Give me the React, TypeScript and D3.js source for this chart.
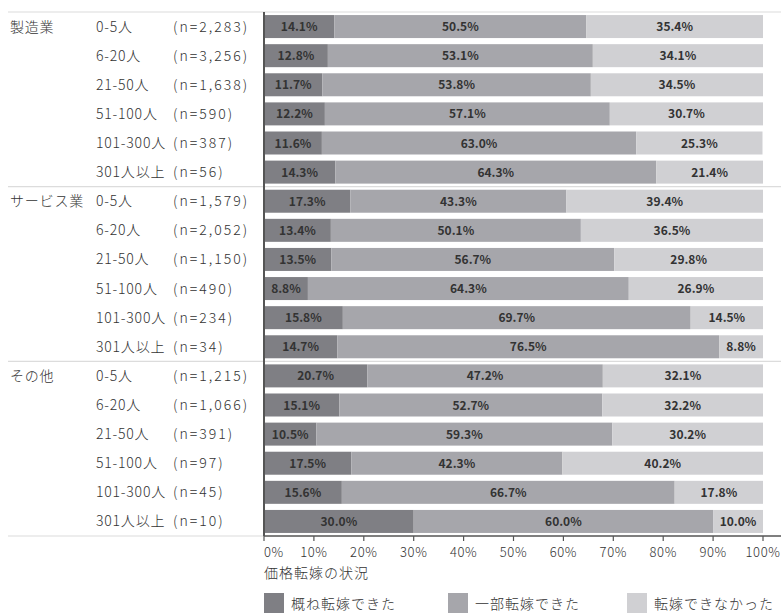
import React from "react";
import * as d3 from "d3";

const groups = ["製造業", "サービス業", "その他"];
const sizes = ["0-5人", "6-20人", "21-50人", "51-100人", "101-300人", "301人以上"];
const counts = [
  ["2,283", "3,256", "1,638", "590", "387", "56"],
  ["1,579", "2,052", "1,150", "490", "234", "34"],
  ["1,215", "1,066", "391", "97", "45", "10"],
];
const mostly = [
  [14.1, 12.8, 11.7, 12.2, 11.6, 14.3],
  [17.3, 13.4, 13.5, 8.8, 15.8, 14.7],
  [20.7, 15.1, 10.5, 17.5, 15.6, 30.0],
];
const partly = [
  [50.5, 53.1, 53.8, 57.1, 63.0, 64.3],
  [43.3, 50.1, 56.7, 64.3, 69.7, 76.5],
  [47.2, 52.7, 59.3, 42.3, 66.7, 60.0],
];
const notAtAll = [
  [35.4, 34.1, 34.5, 30.7, 25.3, 21.4],
  [39.4, 36.5, 29.8, 26.9, 14.5, 8.8],
  [32.1, 32.2, 30.2, 40.2, 17.8, 10.0],
];
const seriesNames = ["概ね転嫁できた", "一部転嫁できた", "転嫁できなかった"];
const axisTitle = "価格転嫁の状況";
const ticks = [0, 10, 20, 30, 40, 50, 60, 70, 80, 90, 100];

const colors = ["#7f7f84", "#a6a6ab", "#d0d0d3"];
const FONT = "'Noto Sans CJK JP', 'Noto Sans', sans-serif";

type Row = { g: number; s: number; key: string; vals: number[] };

const rows: Row[] = [];
groups.forEach((_, g) =>
  sizes.forEach((_, s) =>
    rows.push({
      g,
      s,
      key: `${g}-${s}`,
      vals: [mostly[g][s], partly[g][s], notAtAll[g][s]],
    })
  )
);

export default function App() {
  const W = 781;
  const H = 613;
  const top = 12;
  const bottom = 536;
  const x = d3.scaleLinear().domain([0, 100]).range([264, 763]);
  const y = d3
    .scaleBand<string>()
    .domain(rows.map((r) => r.key))
    .range([top, bottom])
    .paddingInner(0.21)
    .paddingOuter(0.105);
  const bh = y.bandwidth();
  const step = y.step();

  return (
    <svg
      width={W}
      height={H}
      style={{ position: "absolute", left: 0, top: 0, fontFamily: FONT }}
    >
      {/* group separators */}
      {[0, 6, 12].map((i) => {
        const yy = top + i * step;
        return (
          <line key={i} x1={8} x2={W} y1={yy} y2={yy} stroke="#dcdcdc" strokeWidth={1.2} />
        );
      })}
      <line x1={8} x2={264} y1={bottom} y2={bottom} stroke="#dcdcdc" strokeWidth={1.2} />

      {/* bars */}
      {rows.map((r) => {
        let acc = 0;
        const y0 = y(r.key)!;
        return (
          <g key={r.key}>
            {r.vals.map((v, k) => {
              const x0 = x(acc);
              acc += v;
              const x1 = Math.min(x(acc), x(100));
              return (
                <g key={k}>
                  <rect x={x0} y={y0} width={x1 - x0} height={bh} fill={colors[k]} />
                  <text
                    x={(x0 + x1) / 2}
                    y={y0 + bh / 2 + 4.5}
                    textAnchor="middle"
                    fontSize={12}
                    fontWeight={600}
                    fill="#333"
                  >
                    {v.toFixed(1)}%
                  </text>
                </g>
              );
            })}
          </g>
        );
      })}

      {/* row labels */}
      {rows.map((r) => {
        const cy = y(r.key)! + bh / 2 + 5;
        return (
          <g key={"l" + r.key} fontSize={14} fill="#333" fontWeight={300}>
            {r.s === 0 && (
              <text x={10} y={cy} letterSpacing={0.8}>
                {groups[r.g]}
              </text>
            )}
            <text x={96} y={cy} letterSpacing={0.8}>
              {sizes[r.s]}
            </text>
            <text x={173} y={cy} letterSpacing={2}>
              (n={counts[r.g][r.s]})
            </text>
          </g>
        );
      })}

      {/* axes */}
      <line x1={264} x2={264} y1={top} y2={bottom} stroke="#555" strokeWidth={2} />
      <line x1={264} x2={W} y1={bottom} y2={bottom} stroke="#555" strokeWidth={1.5} />
      {ticks.map((t) => (
        <g key={t}>
          <line x1={x(t)} x2={x(t)} y1={bottom} y2={bottom + 5} stroke="#555" strokeWidth={1.2} />
          <text
            x={x(t)}
            y={557}
            textAnchor={t === 0 ? "start" : "middle"}
            fontSize={13}
            fontWeight={300}
            letterSpacing={0.6}
            fill="#333"
          >
            {t}%
          </text>
        </g>
      ))}
      <text x={264} y={578} fontSize={14} fontWeight={300} fill="#333" letterSpacing={1}>
        {axisTitle}
      </text>

      {/* legend */}
      {seriesNames.map((n, k) => {
        const lx = [264, 448, 627][k];
        return (
          <g key={n}>
            <rect x={lx} y={593} width={20} height={20} fill={colors[k]} />
            <text x={lx + 27} y={609} fontSize={14} fontWeight={300} fill="#333" letterSpacing={1}>
              {n}
            </text>
          </g>
        );
      })}
    </svg>
  );
}
